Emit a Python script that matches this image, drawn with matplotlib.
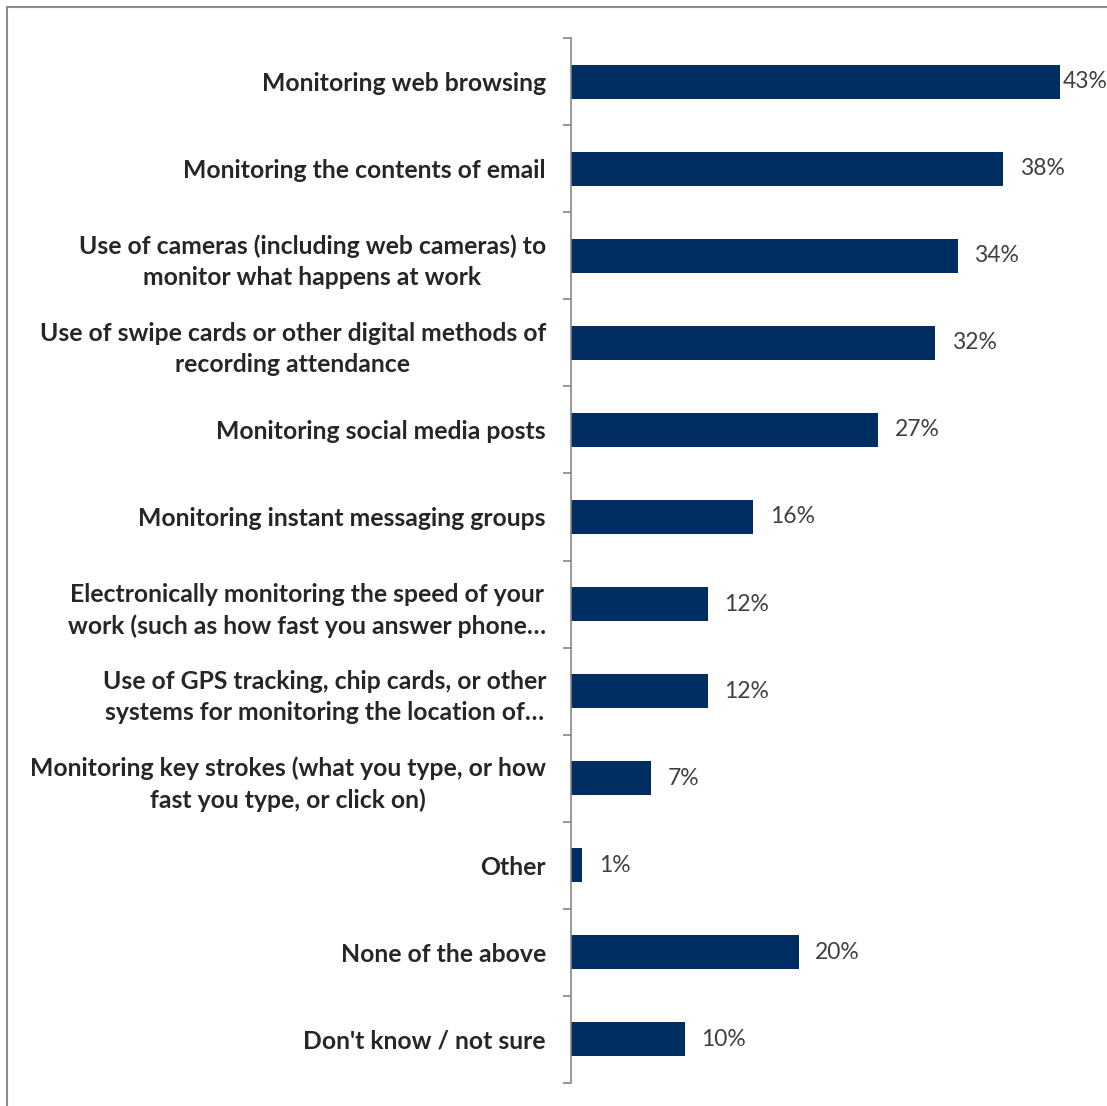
import matplotlib
matplotlib.use("Agg")
import matplotlib.pyplot as plt
from matplotlib.lines import Line2D

categories = [
    "Monitoring web browsing",
    "Monitoring the contents of email",
    "Use of cameras (including web cameras) to\nmonitor what happens at work",
    "Use of swipe cards or other digital methods of\nrecording attendance",
    "Monitoring social media posts",
    "Monitoring instant messaging groups",
    "Electronically monitoring the speed of your\nwork (such as how fast you answer phone\u2026",
    "Use of GPS tracking, chip cards, or other\nsystems for monitoring the location of\u2026",
    "Monitoring key strokes (what you type, or how\nfast you type, or click on)",
    "Other",
    "None of the above",
    "Don't know / not sure",
]
values = [43, 38, 34, 32, 27, 16, 12, 12, 7, 1, 20, 10]

bar_color = "#002D62"
axis_color = "#868686"
text_color = "#262626"

plt.rcParams["font.family"] = ["Lato", "DejaVu Sans"]

fig = plt.figure(figsize=(11.07, 11.06), dpi=100)
ax = fig.add_axes([0.5158, 0.0208, 0.48, 0.9448])

n = len(categories)
ypos = list(range(n))
ax.barh(ypos, values, height=0.39, color=bar_color, zorder=2)
ax.set_ylim(n - 0.5, -0.5)
ax.set_xlim(0, 46.7)

# value labels to the right of each bar
vmax = max(values)
for y, v in zip(ypos, values):
    off = 2 if v == vmax else 12
    ax.annotate(f"{v}%", xy=(v, y), xytext=(off, 0), textcoords="offset points",
                ha="left", va="center", fontsize=16.5, color="#404040")

# category labels at bar centres, tick marks on category boundaries
ax.set_yticks([i - 0.5 for i in range(n + 1)])
ax.set_yticklabels([])
ax.set_yticks(ypos, minor=True)
ax.set_yticklabels(categories, minor=True, fontsize=17.8, fontweight="bold",
                   color=text_color, multialignment="center")
ax.tick_params(axis="y", which="major", length=6, color=axis_color, width=1.2)
ax.tick_params(axis="y", which="minor", length=0, pad=18)
for lbl in ax.get_yticklabels(minor=True):
    lbl.set_linespacing(1.42)

ax.set_xticks([])
for side in ["top", "right", "bottom"]:
    ax.spines[side].set_visible(False)
ax.spines["left"].set_color(axis_color)
ax.spines["left"].set_linewidth(1.2)

# outer frame of the chart area
fig.add_artist(Line2D([7 / 1107, 7 / 1107], [0, 1 - 7 / 1106], color="#8c8c8c", lw=1.5))
fig.add_artist(Line2D([7 / 1107, 1], [1 - 7 / 1106, 1 - 7 / 1106], color="#8c8c8c", lw=1.5))

fig.savefig("out.png", dpi=100, facecolor="white")
